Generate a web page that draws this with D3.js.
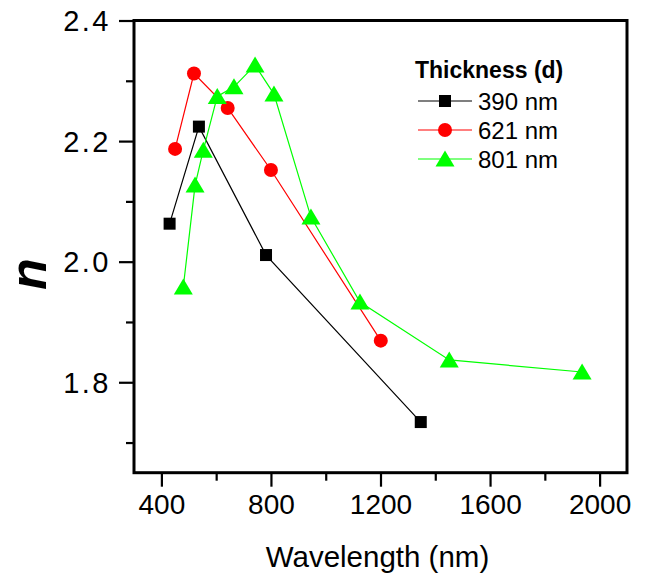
<!DOCTYPE html>
<html>
<head>
<meta charset="utf-8">
<script src="https://cdn.jsdelivr.net/npm/d3@7"></script>
<style>
html,body{margin:0;padding:0;background:#fff;}
svg{display:block;}
text{font-family:"Liberation Sans",Arial,sans-serif;fill:#000;}
</style>
</head>
<body>
<svg id="chart" width="647" height="584"></svg>
<script>
// ---- data ----
const seriesNames = ["390 nm", "621 nm", "801 nm"];
const seriesColors = ["#000000", "#ff0000", "#00ff00"];
const seriesSymbols = ["square", "circle", "triangle"];
const wl390 = [430, 537, 782, 1347];
const n390 = [2.063, 2.224, 2.011, 1.734];
const wl621 = [450, 519, 642, 800, 1201];
const n621 = [2.187, 2.312, 2.255, 2.152, 1.869];
const wl801 = [480, 523, 553, 604, 665, 742, 811, 946, 1125, 1451, 1936];
const n801 = [1.958, 2.127, 2.185, 2.274, 2.290, 2.326, 2.278, 2.074, 1.933, 1.837, 1.817];
const xMajorTicks = [400, 800, 1200, 1600, 2000];
const xMinorTicks = [600, 1000, 1400, 1800];
const yMajorTicks = [1.8, 2.0, 2.2, 2.4];
const yMinorTicks = [1.7, 1.9, 2.1, 2.3];
const xDomain = [300, 2100];
const yDomain = [1.65, 2.4];
const xTitle = "Wavelength (nm)";
const yTitle = "n";
const legendTitle = "Thickness (d)";

const seriesX = [wl390, wl621, wl801];
const seriesY = [n390, n621, n801];

// ---- layout ----
const svg = d3.select("#chart");
const L = 134, R = 627, T = 20.5, B = 472.7;
const x = d3.scaleLinear().domain(xDomain).range([L, R]);
const y = d3.scaleLinear().domain(yDomain).range([B, T]);

// axes
const xAxis = svg.append("g").attr("transform", `translate(0,${B})`)
  .call(d3.axisBottom(x).tickValues(xMajorTicks).tickSize(14).tickSizeOuter(0).tickPadding(7).tickFormat(d3.format("d")));
const xMinor = svg.append("g").attr("transform", `translate(0,${B})`)
  .call(d3.axisBottom(x).tickValues(xMinorTicks).tickSize(8).tickSizeOuter(0).tickFormat(""));
const yAxis = svg.append("g").attr("transform", `translate(${L},0)`)
  .call(d3.axisLeft(y).tickValues(yMajorTicks).tickSize(15).tickSizeOuter(0).tickPadding(8).tickFormat(d3.format(".1f")));
const yMinor = svg.append("g").attr("transform", `translate(${L},0)`)
  .call(d3.axisLeft(y).tickValues(yMinorTicks).tickSize(8).tickSizeOuter(0).tickFormat(""));

[xAxis, xMinor, yAxis, yMinor].forEach(g => {
  g.select(".domain").remove();
  g.selectAll(".tick line").attr("stroke", "#000").attr("stroke-width", 2.2);
  g.selectAll(".tick text").attr("font-size", 28).attr("font-family", '"Liberation Sans",Arial,sans-serif').attr("fill", "#000");
});
yAxis.selectAll(".tick text").attr("dy", "0.35em").attr("font-size", 29).attr("letter-spacing", 2.5);

// frame
svg.append("rect").attr("x", L).attr("y", T).attr("width", R - L).attr("height", B - T)
  .attr("fill", "none").attr("stroke", "#000").attr("stroke-width", 3);

// axis titles
svg.append("text").attr("x", (L + R) / 2 - 3).attr("y", 567).attr("text-anchor", "middle")
  .attr("font-size", 29.5).text(xTitle);
svg.append("text").attr("transform", "translate(46,274) rotate(-90)").attr("text-anchor", "middle")
  .attr("font-size", 52).attr("font-style", "italic").attr("font-weight", "bold").text(yTitle);

// markers
function drawSymbol(g, type, cx, cy, color) {
  if (type === "square") {
    g.append("rect").attr("x", cx - 6).attr("y", cy - 6).attr("width", 12).attr("height", 12).attr("fill", color);
  } else if (type === "circle") {
    g.append("circle").attr("cx", cx).attr("cy", cy).attr("r", 7).attr("fill", color);
  } else {
    g.append("path").attr("d", `M${cx},${cy - 8.5}L${cx + 9.5},${cy + 7.5}L${cx - 9.5},${cy + 7.5}Z`).attr("fill", color);
  }
}

const line = d3.line().x(d => x(d[0])).y(d => y(d[1]));
seriesNames.forEach((name, i) => {
  const pts = seriesX[i].map((v, j) => [v, seriesY[i][j]]);
  const g = svg.append("g");
  g.append("path").attr("d", line(pts)).attr("fill", "none").attr("stroke", seriesColors[i]).attr("stroke-width", 1.2);
  pts.forEach(p => drawSymbol(g, seriesSymbols[i], x(p[0]), y(p[1]), seriesColors[i]));
});

// legend
const lg = svg.append("g");
lg.append("text").attr("x", 415).attr("y", 78).attr("font-size", 23).attr("font-weight", "bold").text(legendTitle);
seriesNames.forEach((name, i) => {
  const ly = 101 + i * 29;
  lg.append("line").attr("x1", 418).attr("x2", 472).attr("y1", ly).attr("y2", ly)
    .attr("stroke", seriesColors[i]).attr("stroke-width", 1.2);
  drawSymbol(lg, seriesSymbols[i], 445, ly, seriesColors[i]);
  lg.append("text").attr("x", 478).attr("y", ly).attr("dy", "0.36em").attr("font-size", 24).text(name);
});
</script>
</body>
</html>
